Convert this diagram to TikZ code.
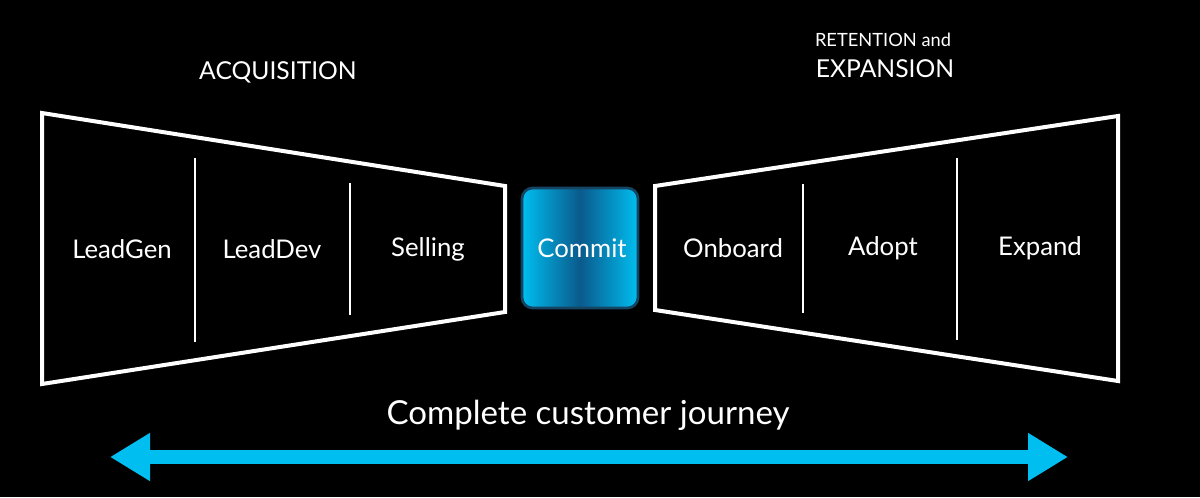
\documentclass[tikz,border=0pt]{standalone}
\usepackage{fontspec}
\setmainfont{Lato}
\usetikzlibrary{arrows.meta}
\definecolor{skyline}{RGB}{0,190,240}
\definecolor{deepblue}{RGB}{10,90,140}
\tikzset{every picture/.style={line width=0.75pt},
  funnel/.style={draw=white, line width=3pt, line join=miter},
  divider/.style={draw=white, line width=1.8pt},
  stage/.style={text=white, font=\fontsize{19.3}{21}\selectfont, inner sep=0.75pt},
  head/.style={text=white, font=\fontsize{18.5}{20}\selectfont, inner sep=0.75pt}}
\begin{document}
\begin{tikzpicture}[x=0.75pt,y=0.75pt,yscale=-1,xscale=1]
	% background
	\fill[black] (0,0) rectangle (1200,497);
	\useasboundingbox (0,0) rectangle (1200,497);
	
	%Shape: left funnel
	\draw[funnel]  (42,113) -- (505,186) -- (505,312) -- (42,384) -- cycle ;
	\draw[divider]    (195,158) -- (195,342) ;
	\draw[divider]    (350,183) -- (350,315) ;
	%Shape: right funnel
	\draw[funnel]  (655,186) -- (1118,116) -- (1118,381) -- (655,310) -- cycle ;
	\draw[divider]    (803,184) -- (803,313) ;
	\draw[divider]    (957,158) -- (957,340) ;
	%Shape: commit box
	\draw[draw={rgb,255:red,20;green,70;blue,100}, line width=2pt, rounded corners=8pt, left color=skyline, right color=skyline, middle color=deepblue] (522,188) rectangle (638,308) ;
	
	% Text Node
	\node[stage] (leadgen) at (122,249) {LeadGen};
	\node[stage] (leaddev) at (272,249) {LeadDev};
	\node[stage] (selling) at (428,249) {Selling};
	\node[stage] (commit) at (582,248) {Commit};
	\node[stage] (onboard) at (733,248) {Onboard};
	\node[stage] (adopt) at (883,248) {Adopt};
	\node[stage] (expand) at (1040,248) {Expand};
	\node[head] (acq) at (278,72) {ACQUISITION};
	\node[text=white, font=\fontsize{13.7}{15}\selectfont, inner sep=0.75pt] (ret) at (883,40) {RETENTION and};
	\node[head] (exp) at (885,69) {EXPANSION};
	\node[text=white, font=\fontsize{24.8}{28}\selectfont, inner sep=0.75pt] (journey) at (588,415) {Complete customer journey};
	
	%Double arrow
	\coordinate (jl) at (110,457);
	\coordinate (jr) at (1068,457);
	\draw[skyline, line width=10pt, {Triangle[length=30pt,width=34pt]}-{Triangle[length=30pt,width=34pt]}] (jl) -- (jr) ;
	
\end{tikzpicture}
\end{document}
